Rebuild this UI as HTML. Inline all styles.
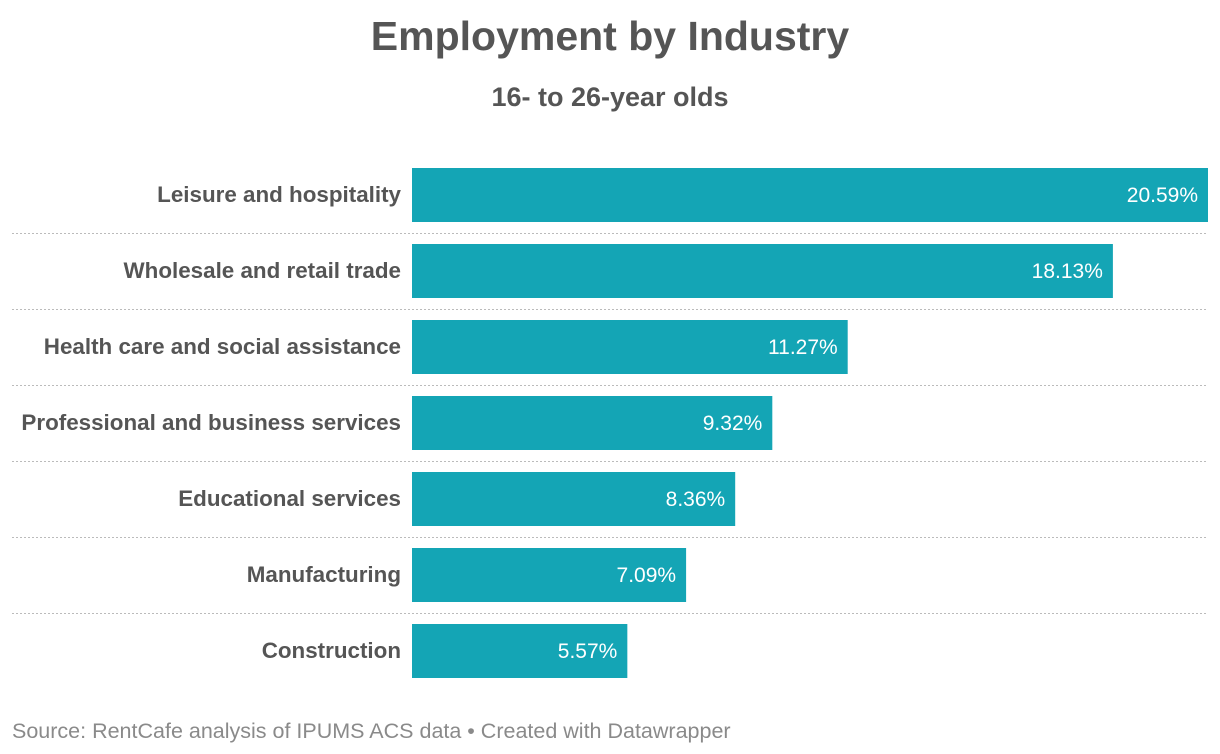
<!DOCTYPE html>
<html><head><meta charset="utf-8"><style>
body{margin:0;background:#fff;width:1220px;height:754px;overflow:hidden;font-family:"Liberation Sans",Arial,sans-serif;}
svg{display:block}
</style></head><body>
<svg id="chart" width="1220" height="754">
<text x="610" y="50" text-anchor="middle" font-size="41" font-weight="bold" fill="#555">Employment by Industry</text>
<text x="610" y="106" text-anchor="middle" font-size="27" font-weight="bold" fill="#555">16- to 26-year olds</text>
<text x="12" y="738" font-size="21.5" fill="#8a8a8a">Source: RentCafe analysis of IPUMS ACS data • Created with Datawrapper</text>
<g id="bars"></g>
</svg>
<script>
const categories=["Leisure and hospitality","Wholesale and retail trade","Health care and social assistance","Professional and business services","Educational services","Manufacturing","Construction"];
const values=[20.59,18.13,11.27,9.32,8.36,7.09,5.57];
const valueLabels=["20.59%","18.13%","11.27%","9.32%","8.36%","7.09%","5.57%"];
const NS="http://www.w3.org/2000/svg";
const g=document.getElementById('bars');
const x0=412,x1=1208,maxV=Math.max(...values);
const xs=v=>x0+(v/maxV)*(x1-x0);
const ys=i=>168+i*76;
function mk(t,a){const e=document.createElementNS(NS,t);for(const k in a)e.setAttribute(k,a[k]);g.appendChild(e);return e;}
categories.forEach((c,i)=>{
 const y=ys(i);
 const r=mk('rect',{x:x0,y:y,width:xs(values[i])-x0,height:54,fill:'#14a5b5'});
 
 
 const l=mk('text',{x:401,y:y+34,'text-anchor':'end','font-size':22.4,'font-weight':'bold',fill:'#555'});
 l.textContent=c;
 
 
 const v=mk('text',{x:xs(values[i])-10,y:y+34,'text-anchor':'end','font-size':21,fill:'#fff'});
 v.textContent=valueLabels[i];
 
 
 if(i<categories.length-1){
  const s=mk('line',{x1:12,x2:1208,y1:y+65.5,y2:y+65.5,stroke:'#bbb','stroke-width':1,'stroke-dasharray':'2,2'});
  
  
 }
});
</script>
</body></html>
